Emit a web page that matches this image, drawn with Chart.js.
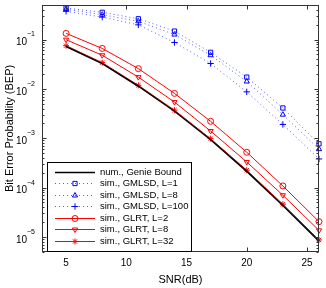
<!DOCTYPE html>
<html>
<head>
<meta charset="utf-8">
<script src="https://cdn.jsdelivr.net/npm/chart.js@4.4.0/dist/chart.umd.min.js"></script>
<style>
html,body{margin:0;padding:0;background:#fff;}
#wrap{width:326px;height:288px;}
</style>
</head>
<body>
<div id="wrap"><canvas id="c" width="326" height="288"></canvas></div>
<script>
// ---- data ----
const snr = [5, 8, 11, 14, 17, 20, 23, 26];
const genieBound   = [0.072, 0.0325, 0.0113, 0.00352, 9.3e-4, 2.13e-4, 4.35e-5, 8.2e-6];
const gmlsdL1      = [0.434, 0.356, 0.263, 0.148, 0.055, 0.0173, 0.0041, 7.7e-4];
const gmlsdL8      = [0.41, 0.318, 0.234, 0.126, 0.048, 0.0141, 0.0030, 6.0e-4];
const gmlsdL100    = [0.373, 0.284, 0.198, 0.087, 0.0326, 0.0087, 0.0019, 3.8e-4];
const glrtL2       = [0.133, 0.066, 0.0257, 0.0081, 0.0022, 5.2e-4, 1.08e-4, 2.04e-5];
const glrtL8       = [0.099, 0.048, 0.0173, 0.0054, 0.0014, 3.3e-4, 7.0e-5, 1.36e-5];
const glrtL32      = [0.075, 0.034, 0.0118, 0.0037, 9.8e-4, 2.25e-4, 4.6e-5, 8.7e-6];
const seriesLabels = ['num., Genie Bound', 'sim., GMLSD, L=1', 'sim., GMLSD, L=8', 'sim., GMLSD, L=100',
                      'sim., GLRT, L=2', 'sim., GLRT, L=8', 'sim., GLRT, L=32'];
const xTicks = [5, 10, 15, 20, 25];
const yTickExponents = [-1, -2, -3, -4, -5];
const xTitle = 'SNR(dB)';
const yTitle = 'Bit Error Probability (BEP)';

const pts = arr => arr.map((v, i) => ({x: snr[i], y: v}));
const BLUE = '#5a5aff';
const RED = '#ff0000';

function blueSet(label, data, style) {
  return {label, data: pts(data), borderColor: BLUE, borderWidth: 1, borderDash: [1, 3],
    pointStyle: style, pointRadius: style === 'cross' ? 3.2 : 3, pointBorderColor: '#0000ff',
    pointBackgroundColor: 'rgba(0,0,0,0)', pointBorderWidth: 1, clip: false, fill: false, tension: 0};
}
function redSet(label, data, style, rot) {
  return {label, data: pts(data), borderColor: RED, borderWidth: 1,
    pointStyle: style, pointRotation: rot || 0, pointRadius: 3, pointBorderColor: RED,
    pointBackgroundColor: style === 'star' ? RED : 'rgba(0,0,0,0)', pointBorderWidth: 1,
    clip: false, fill: false, tension: 0};
}

const datasets = [
  {label: seriesLabels[0], data: pts(genieBound), borderColor: '#000', borderWidth: 1.5,
   pointRadius: 0, clip: false, fill: false, tension: 0},
  blueSet(seriesLabels[1], gmlsdL1, 'rect'),
  blueSet(seriesLabels[2], gmlsdL8, 'triangle'),
  blueSet(seriesLabels[3], gmlsdL100, 'cross'),
  redSet(seriesLabels[4], glrtL2, 'circle'),
  redSet(seriesLabels[5], glrtL8, 'triangle', 180),
  redSet(seriesLabels[6], glrtL32, 'star'),
];

const FONT = "'Liberation Sans', Arial, Helvetica, sans-serif";

const decor = {
  id: 'decor',
  afterDatasetsDraw(chart) {
    const ctx = chart.ctx;
    const a = chart.chartArea;
    const xs = chart.scales.x, ys = chart.scales.y;
    ctx.save();
    // box
    ctx.strokeStyle = '#333';
    ctx.lineWidth = 1;
    const L = Math.round(a.left) + 0.5, R = Math.round(a.right) - 0.5;
    const T = Math.round(a.top) + 0.5, B = Math.round(a.bottom) - 0.5;
    ctx.strokeRect(L, T, R - L, B - T);
    // x ticks inward
    ctx.beginPath();
    xTicks.forEach(v => {
      const px = Math.round(xs.getPixelForValue(v)) + 0.5;
      ctx.moveTo(px, B); ctx.lineTo(px, B - 4);
      ctx.moveTo(px, T); ctx.lineTo(px, T + 4);
    });
    // y ticks inward (major + minor)
    for (let e = -6; e <= 0; e++) {
      for (let m = 1; m <= 9; m++) {
        const v = m * Math.pow(10, e);
        if (v < ys.min * 0.999 || v > ys.max * 1.001) continue;
        const py = Math.round(ys.getPixelForValue(v)) + 0.5;
        const len = m === 1 ? 4 : 2;
        ctx.moveTo(L, py); ctx.lineTo(L + len, py);
        ctx.moveTo(R, py); ctx.lineTo(R - len, py);
      }
    }
    ctx.stroke();
    // y tick labels
    ctx.fillStyle = '#000';
    yTickExponents.forEach(e => {
      const py = ys.getPixelForValue(Math.pow(10, e));
      ctx.font = '10px ' + FONT;
      ctx.textAlign = 'right';
      ctx.textBaseline = 'middle';
      ctx.fillText('10', 27, py + 3);
      ctx.font = '7px ' + FONT;
      ctx.textAlign = 'left';
      ctx.fillText('\u2212' + Math.abs(e), 27, py - 5);
    });
    // legend
    const lx = 47, ly = 162, lw = 144, lh = 89;
    ctx.fillStyle = '#fff';
    ctx.fillRect(lx, ly, lw, lh);
    ctx.strokeStyle = '#000';
    ctx.lineWidth = 1;
    ctx.strokeRect(lx + 0.5, ly + 0.5, lw, lh);
    chart.data.datasets.forEach((ds, i) => {
      const y = ly + 9.5 + i * 11.5;
      ctx.save();
      ctx.strokeStyle = ds.borderColor;
      ctx.lineWidth = ds.borderWidth;
      ctx.setLineDash(ds.borderDash || []);
      ctx.beginPath();
      ctx.moveTo(55, Math.round(y) + 0.5); ctx.lineTo(95, Math.round(y) + 0.5);
      ctx.stroke();
      ctx.restore();
      if (ds.pointRadius > 0) {
        ctx.save();
        ctx.strokeStyle = ds.pointBorderColor;
        ctx.fillStyle = ds.pointBackgroundColor;
        ctx.lineWidth = 1;
        Chart.helpers.drawPoint(ctx, {pointStyle: ds.pointStyle, radius: ds.pointRadius,
          rotation: ds.pointRotation || 0, borderWidth: 1}, 75, Math.round(y) + 0.5);
        ctx.restore();
      }
      ctx.fillStyle = '#000';
      ctx.font = '9.5px ' + FONT;
      ctx.textAlign = 'left';
      ctx.textBaseline = 'middle';
      ctx.fillText(ds.label, 100, y + 0.5);
    });
    ctx.restore();
  }
};

new Chart(document.getElementById('c'), {
  type: 'line',
  data: {datasets},
  options: {
    responsive: false,
    animation: false,
    devicePixelRatio: 1,
    layout: {padding: {top: 3, right: 7, left: 0, bottom: 0}},
    plugins: {legend: {display: false}, tooltip: {enabled: false}},
    scales: {
      x: {
        type: 'linear', min: 3, max: 26,
        afterBuildTicks: s => { s.ticks = xTicks.map(v => ({value: v})); },
        grid: {display: false, drawTicks: false},
        border: {display: false},
        ticks: {font: {size: 10, family: FONT}, color: '#000', padding: 5, maxRotation: 0,
                callback: v => String(v)},
        title: {display: true, text: xTitle, color: '#000', font: {size: 11, family: FONT},
                padding: {top: 0, bottom: 1}}
      },
      y: {
        type: 'logarithmic', min: 5e-6, max: 0.5,
        grid: {display: false, drawTicks: false},
        border: {display: false},
        ticks: {display: false},
        title: {display: true, text: yTitle, color: '#000', font: {size: 11, family: FONT},
                padding: {top: 3, bottom: 25.8}}
      }
    }
  },
  plugins: [decor]
});
</script>
</body>
</html>
